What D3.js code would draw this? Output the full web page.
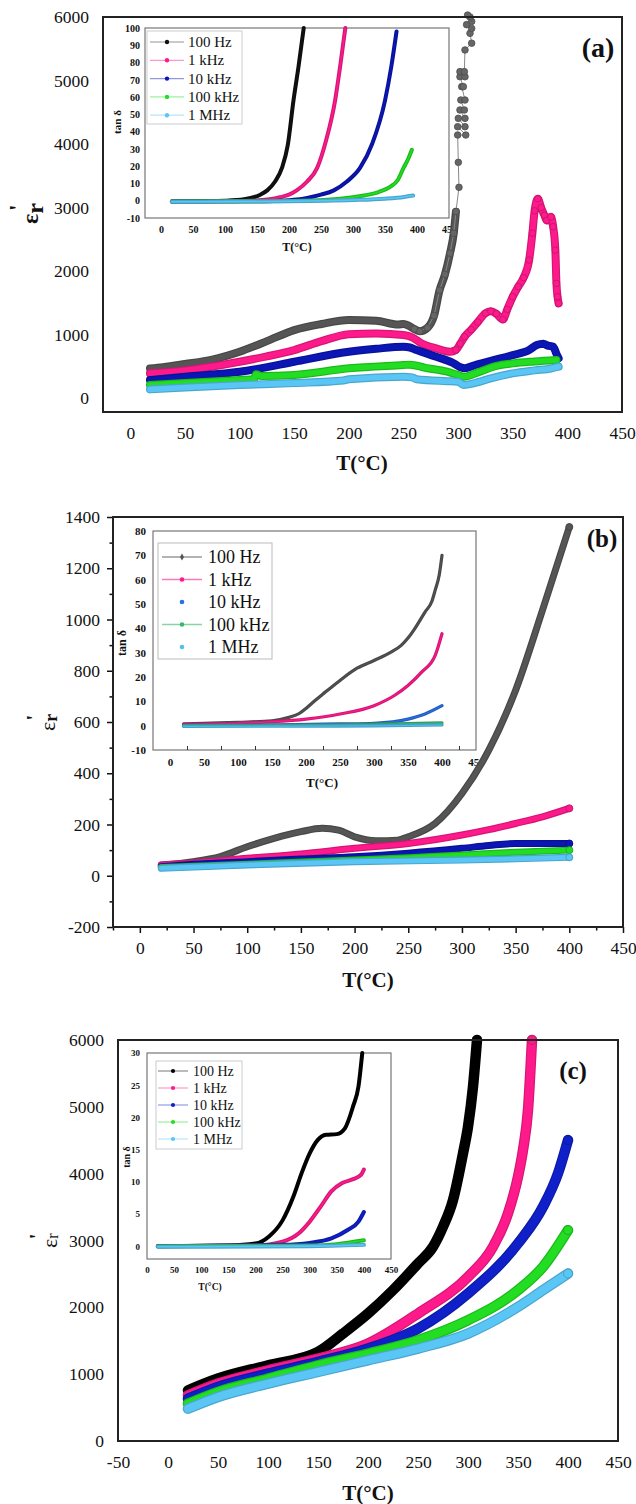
<!DOCTYPE html>
<html>
<head>
<meta charset="utf-8">
<script src="https://cdn.jsdelivr.net/npm/d3@7"></script>
<style>
  body { margin: 0; background: #fff; }
  svg { display: block; }
</style>
</head>
<body>
<svg id="fig" width="636" height="1504"></svg>
<script>
// ---------- data ----------
const freqLabels = ["100 Hz", "1 kHz", "10 kHz", "100 kHz", "1 MHz"];

// temperature ticks
const tempTicksMain = [0, 50, 100, 150, 200, 250, 300, 350, 400, 450];
const tempTicksC = [-50, 0, 50, 100, 150, 200, 250, 300, 350, 400, 450];
// permittivity ticks
const epsTicksA = [0, 1000, 2000, 3000, 4000, 5000, 6000];
const epsTicksB = [-200, 0, 200, 400, 600, 800, 1000, 1200, 1400];
const epsTicksC = [0, 1000, 2000, 3000, 4000, 5000, 6000];
// loss tangent ticks
const tanTicksA = [-10, 0, 10, 20, 30, 40, 50, 60, 70, 80, 90, 100];
const tanTicksB = [-10, 0, 10, 20, 30, 40, 50, 60, 70, 80];
const tanTicksC = [0, 5, 10, 15, 20, 25, 30];

// (a) real permittivity vs temperature, [T, eps']
const epsA_100Hz = [[18,470],[30,490],[50,540],[75,610],[100,734],[125,900],[150,1074],[175,1170],[200,1232],[225,1220],[245,1160],[250,1170],[255,1140],[260,1090],[265,1055],[272,1110],[278,1300],[283,1700],[288,1950],[292.6,2282],[296,2597],[298,2937],
  [300.8,3320],[300.2,3713],[299.6,4143],[307,4143],[299.6,4274],[306.3,4274],[300.2,4405],[306.3,4405],[301.7,4537],[305.7,4537],[302.5,4694],[306.3,4694],[303.3,4904],[304.8,4904],[301.7,5060],[306.3,5060],[301.7,5140],[305.7,5140],[306.3,5481],[312.4,5588],[310.9,5743],[312.4,5820],[307.8,5880],[312.4,5930],[310.9,6000],[308.7,6030]];
const epsA_1kHz = [[18,393],[50,440],[100,576],[125,660],[150,760],[175,900],[200,1010],[225,1020],[250,996],[258,960],[265,880],[280,786],[293,734],[298,760],[302,860],[306,970],[312,1080],[318,1200],[325,1340],[330,1370],[335,1330],[341,1240],[345,1400],[350,1600],[355,1756],[360,1900],[365,2175],[368,2600],[370,2950],[373,3140],[376,3000],[379,2880],[381,2800],[385,2856],[387,2700],[389,2332],[390,1808],[391,1600],[392,1494]];
const epsA_10kHz = [[18,288],[50,340],[100,419],[115,460],[150,576],[200,734],[225,780],[250,812],[256,800],[262,760],[280,655],[295,560],[302,490],[306,472],[315,520],[330,590],[350,681],[365,760],[372,840],[378,860],[382,830],[387,812],[390,700],[392,629]];
const epsA_100kHz = [[18,210],[50,240],[100,288],[113,300],[115,380],[120,350],[150,367],[200,472],[250,524],[256,530],[270,480],[290,420],[300,367],[305,340],[320,420],[335,510],[350,550],[370,580],[390,603]];
const epsA_1MHz = [[18,141],[50,170],[100,210],[150,240],[195,280],[200,300],[250,340],[258,330],[262,300],[290,270],[300,262],[305,210],[315,240],[330,314],[350,393],[370,440],[385,470],[392,498]];

// (a) inset: loss tangent, [T, tan delta]
const tanA_100Hz = [[17,-0.5],[60,-0.3],[100,0],[130,0.8],[145,2],[155,3.5],[166,6],[178,11],[189,19],[198,32],[207,58],[215,78],[223,100]];
const tanA_1kHz = [[17,-0.5],[100,-0.3],[150,0.2],[170,0.8],[186,2],[200,3.5],[212,6],[228,11],[244,19],[258,35],[272,58],[280,78],[288,100]];
const tanA_10kHz = [[17,-0.5],[150,-0.3],[200,0.3],[220,1],[233,2],[250,3.5],[270,6],[290,11],[311,19],[330,33],[350,58],[360,78],[368,98]];
const tanA_100kHz = [[17,-0.5],[200,-0.2],[260,0.5],[300,2],[317,3],[340,5],[358,8],[370,12],[379,19],[386,24],[392,29.5]];
const tanA_1MHz = [[17,-0.6],[100,-0.5],[200,-0.3],[300,0.4],[350,1.2],[380,2.2],[394,3]];

// (b) real permittivity vs temperature
const epsB_100Hz = [[20,42],[50,55],[75,75],[100,113],[125,146],[150,172],[170,185],[185,178],[200,152],[220,137],[240,139],[250,152],[275,204],[300,321],[325,490],[350,724],[375,1036],[400,1361]];
const epsB_1kHz = [[20,42],[50,50],[100,68],[150,85],[200,107],[250,126],[300,159],[325,180],[350,204],[375,230],[400,263]];
const epsB_10kHz = [[20,35],[50,45],[100,55],[150,65],[200,74],[250,88],[300,107],[325,118],[350,126],[400,126]];
const epsB_100kHz = [[20,32],[100,45],[200,61],[250,70],[300,81],[350,92],[400,100]];
const epsB_1MHz = [[20,29],[100,42],[200,55],[300,61],[350,66],[400,72]];

// (b) inset: loss tangent
const tanB_100Hz = [[20,0.7],[50,1],[100,1.4],[150,2],[175,3.4],[190,5],[200,7.1],[212,10],[225,13],[250,18.6],[275,23.6],[300,26.8],[325,30.2],[340,33],[350,36],[360,39.9],[375,46.7],[385,51],[390,55.7],[396,62],[400,70]];
const tanB_1kHz = [[20,0.5],[100,1],[150,1.6],[200,2.7],[250,4.8],[300,8.2],[330,12.4],[350,16.5],[370,22],[390,28.9],[400,37.8]];
const tanB_10kHz = [[20,0.1],[150,0.3],[250,0.7],[300,1],[350,2.7],[375,4.8],[400,8.2]];
const tanB_100kHz = [[20,0],[200,0.2],[300,0.5],[400,1.2]];
const tanB_1MHz = [[20,-0.3],[200,-0.2],[300,-0.1],[400,0.3]];

// (c) real permittivity vs temperature
const epsC_100Hz = [[20,759],[50,934],[100,1133],[150,1333],[175,1608],[200,1907],[225,2257],[250,2656],[265,2906],[275,3205],[285,3604],[295,4303],[300,4703],[305,5302],[309,6000]];
const epsC_1kHz = [[20,684],[50,859],[100,1058],[150,1233],[200,1458],[250,1907],[300,2456],[325,2906],[340,3405],[350,3954],[355,4354],[360,4953],[364,6000]];
const epsC_10kHz = [[20,634],[50,809],[100,1008],[150,1183],[200,1383],[250,1682],[300,2207],[350,2956],[375,3505],[390,4004],[400,4503]];
const epsC_100kHz = [[20,559],[50,734],[100,934],[150,1133],[200,1308],[250,1508],[300,1807],[350,2257],[375,2606],[400,3155]];
const epsC_1MHz = [[20,484],[50,659],[100,859],[150,1033],[200,1208],[250,1383],[300,1608],[350,2007],[375,2257],[400,2506]];

// (c) inset: loss tangent
const tanC_100Hz = [[20,0],[150,0.1],[200,0.4],[225,1.5],[250,4],[270,7.7],[285,11.3],[300,14.4],[315,16.5],[330,17.3],[350,17.4],[365,18.3],[380,21.7],[390,24.8],[397,30]];
const tanC_1kHz = [[20,0],[200,0.1],[250,0.7],[280,2],[300,3.8],[320,6.1],[340,8.5],[360,9.8],[380,10.4],[395,11.1],[400,11.9]];
const tanC_10kHz = [[20,0],[250,0.2],[300,0.5],[340,1.2],[370,2.5],[390,3.8],[400,5.3]];
const tanC_100kHz = [[20,0],[300,0.1],[350,0.3],[400,0.9]];
const tanC_1MHz = [[20,-0.1],[300,0],[400,0.2]];

// ---------- styles ----------
const SERIF = '"Liberation Serif","Times New Roman",serif';
const PINK = "#ff1a8c", BLUE = "#0b16b4", GREEN = "#22dd22", CYAN = "#5ac6f5";
const colorsA = ["#555555", PINK, BLUE, GREEN, CYAN];
const colorsAInset = ["#111111", PINK, BLUE, GREEN, CYAN];
const colorsB = ["#555555", PINK, BLUE, GREEN, CYAN];
const colorsBInset = ["#555555", PINK, "#2a6fe6", "#39b86a", "#4fc0f0"];
const colorsC = ["#000000", PINK, "#1020c8", GREEN, CYAN];

const svg = d3.select("#fig");
svg.append("rect").attr("width", 636).attr("height", 1504).attr("fill", "#fff");

const fmt = d => String(d);

function styleText(sel, size, weight) {
  sel.selectAll("text")
    .style("font-family", SERIF)
    .style("font-size", size + "px")
    .style("font-weight", weight)
    .attr("fill", "#111");
}

function frame(g, x, y, stroke, width, fill) {
  const [x0, x1] = x.range(), [y0, y1] = y.range();
  return g.append("rect")
    .attr("x", x0).attr("y", y1)
    .attr("width", x1 - x0).attr("height", y0 - y1)
    .attr("fill", fill || "none")
    .attr("stroke", stroke).attr("stroke-width", width);
}

// axes drawn with d3 axis generators; o holds the layout of each axis
function axes(g, x, y, o) {
  const bottom = d3.axisBottom(x).tickValues(o.xTicks).tickFormat(fmt)
    .tickSize(o.tickLen || 0).tickSizeOuter(0).tickPadding(o.xPad);
  const gx = g.append("g").attr("transform", `translate(0,${y.range()[0]})`).call(bottom);
  gx.select(".domain").remove();
  gx.selectAll("line").attr("stroke", "#111").attr("stroke-width", o.tickW || 1.5);
  styleText(gx, o.size, o.weight);

  const left = d3.axisLeft(y).tickValues(o.yTicks).tickFormat(fmt)
    .tickSize(o.tickLen || 0).tickSizeOuter(0).tickPadding(o.yPad);
  const gy = g.append("g").attr("transform", `translate(${x.range()[0]},0)`).call(left);
  gy.select(".domain").remove();
  gy.selectAll("line").attr("stroke", "#111").attr("stroke-width", o.tickW || 1.5);
  styleText(gy, o.size, o.weight);

  if (o.xMinor) {
    const m = g.append("g").attr("transform", `translate(0,${y.range()[0]})`)
      .call(d3.axisBottom(x).tickValues(o.xMinor).tickSize(o.minorLen).tickFormat(""));
    m.select(".domain").remove();
    m.selectAll("line").attr("stroke", "#111").attr("stroke-width", o.tickW || 1.5);
  }
  if (o.yMinor) {
    const m = g.append("g").attr("transform", `translate(${x.range()[0]},0)`)
      .call(d3.axisLeft(y).tickValues(o.yMinor).tickSize(o.minorLen).tickFormat(""));
    m.select(".domain").remove();
    m.selectAll("line").attr("stroke", "#111").attr("stroke-width", o.tickW || 1.5);
  }
}

// thick band made of dense overlapping markers
function band(g, x, y, data, color, w) {
  const line = d3.line().x(d => x(d[0])).y(d => y(d[1])).curve(d3.curveMonotoneX);
  g.append("path").datum(data).attr("d", line).attr("fill", "none")
    .attr("stroke", d3.color(color).darker(0.5)).attr("stroke-width", w)
    .attr("stroke-linecap", "round").attr("stroke-linejoin", "round");
  g.append("path").datum(data).attr("d", line).attr("fill", "none")
    .attr("stroke", color).attr("stroke-width", Math.max(w - 2.4, 1))
    .attr("stroke-linecap", "round").attr("stroke-linejoin", "round");
}

function markers(g, x, y, data, color, r) {
  g.selectAll(null).data(data).join("circle")
    .attr("cx", d => x(d[0])).attr("cy", d => y(d[1])).attr("r", r)
    .attr("fill", color).attr("stroke", d3.color(color).darker(0.8)).attr("stroke-width", 0.8);
}

function legend(g, L, colors, kinds) {
  g.append("rect").attr("x", L.x).attr("y", L.y).attr("width", L.w).attr("height", L.h)
    .attr("fill", "#fff").attr("stroke", L.stroke).attr("stroke-width", 1);
  freqLabels.forEach((lab, i) => {
    const cy = L.row0 + i * L.step;
    const kind = kinds ? kinds[i] : "line";
    if (kind !== "dot") {
      g.append("line").attr("x1", L.lx0).attr("x2", L.lx1).attr("y1", cy).attr("y2", cy)
        .attr("stroke", colors[i]).attr("stroke-opacity", L.lineOpacity).attr("stroke-width", L.lineW);
    }
    if (kind === "diamond") {
      g.append("path").attr("d", d3.symbol(d3.symbolDiamond, 14)())
        .attr("transform", `translate(${L.mx},${cy})`).attr("fill", colors[i]);
    } else {
      g.append("circle").attr("cx", L.mx).attr("cy", cy).attr("r", L.mr).attr("fill", colors[i]);
    }
    g.append("text").attr("x", L.tx).attr("y", cy + L.size * 0.34).text(lab)
      .style("font-family", SERIF).style("font-size", L.size + "px").attr("fill", "#111");
  });
}

function title(g, txt, cx, cy, size, weight, rotate) {
  const t = g.append("text")
    .attr("transform", `translate(${cx},${cy})` + (rotate ? " rotate(-90)" : ""))
    .attr("text-anchor", "middle").attr("y", size * 0.34)
    .style("font-family", SERIF).style("font-size", size + "px")
    .style("font-weight", weight).attr("fill", "#111").text(txt);
  return t;
}

// rotated epsilon'_r axis title; E = {x, y0, size, rSize, rDy, primeDx, primeDy, weight, rWeight}
function epsTitle(g, E) {
  const t = g.append("text")
    .attr("transform", `translate(${E.x},${E.y0}) rotate(-90)`)
    .attr("text-anchor", "start")
    .style("font-family", SERIF).style("font-size", E.size + "px")
    .style("font-weight", E.weight).attr("fill", "#111");
  t.append("tspan").text("ε");
  t.append("tspan").attr("dy", E.rDy).style("font-size", E.rSize + "px")
    .style("font-weight", E.rWeight).text("r");
  t.append("tspan").attr("dx", E.primeDx).attr("dy", E.primeDy)
    .style("font-size", E.size + "px").style("font-weight", "bold").text("'");
}

// ================= panel (a) =================
{
  const g = svg.append("g");
  const x = d3.scaleLinear().domain([-25, 450]).range([103, 622]);
  const y = d3.scaleLinear().domain([-215, 6000]).range([412, 17]);
  const xi = d3.scaleLinear().domain([-25, 450]).range([145, 449]);
  const yi = d3.scaleLinear().domain([-10, 100]).range([218, 28]);

  axes(g, x, y, { xTicks: tempTicksMain, yTicks: epsTicksA, size: 17.5, weight: "normal", xPad: 15, yPad: 14 });

  // inset
  const gi = g.append("g");
  frame(gi, xi, yi, "#777", 1.2, "#fff");
  axes(gi, xi, yi, { xTicks: tempTicksMain, yTicks: tanTicksA, size: 10, weight: "bold", xPad: 7.5, yPad: 5 });
  const ciA = gi.append("g").attr("clip-path", null);
  [tanA_100Hz, tanA_1kHz, tanA_10kHz, tanA_100kHz, tanA_1MHz].forEach((d, i) =>
    band(ciA, xi, yi, d, colorsAInset[i], 4));
  legend(gi, { x: 147, y: 31, w: 95, h: 93, stroke: "#ccc", row0: 42, step: 18.3,
    lx0: 150, lx1: 184, mx: 167, mr: 2.2, tx: 188, size: 15, lineOpacity: 0.45, lineW: 1.2 }, colorsAInset);
  title(gi, "T(°C)", 297, 247, 12, "bold");
  title(gi, "tan δ", 117, 122, 11, "bold", true);

  // main series
  const gd = g.append("g");
  const gray = epsA_100Hz;
  const grayBand = gray.filter(d => d[1] < 3000);
  const grayScatter = gray.filter(d => d[0] >= 260);
  band(gd, x, y, grayBand, colorsA[0], 8);
  gd.append("path").datum(grayScatter)
    .attr("d", d3.line().x(d => x(d[0])).y(d => y(d[1])))
    .attr("fill", "none").attr("stroke", "#888").attr("stroke-width", 1);
  markers(gd, x, y, grayScatter, "#666", 3.3);
  [epsA_1kHz, epsA_10kHz, epsA_100kHz, epsA_1MHz].forEach((d, i) => {
    band(gd, x, y, d, colorsA[i + 1], 8);
  });
  markers(gd, x, y, epsA_1kHz.filter(d => d[0] >= 298), PINK, 3.3);

  frame(g, x, y, "#222", 2);
  title(g, "T(°C)", 362, 463, 21, "bold");
  title(g, "(a)", 598, 47, 28, "bold");
  epsTitle(g, { x: 38, y0: 224, size: 24, rSize: 24, rDy: 5, primeDx: -8, primeDy: -18, weight: "bold", rWeight: "bold" });
}

// ================= panel (b) =================
{
  const g = svg.append("g");
  const x = d3.scaleLinear().domain([-25, 450]).range([113, 623]);
  const y = d3.scaleLinear().domain([-200, 1400]).range([927, 517]);
  const xi = d3.scaleLinear().domain([-25, 450]).range([153, 476]);
  const yi = d3.scaleLinear().domain([-10, 80]).range([750, 531]);

  axes(g, x, y, { xTicks: tempTicksMain, yTicks: epsTicksB, size: 17.5, weight: "normal", xPad: 9, yPad: 7,
    tickLen: 6, tickW: 1.5, minorLen: 3.5,
    xMinor: [-25, 25, 75, 125, 175, 225, 275, 325, 375, 425],
    yMinor: [-100, 100, 300, 500, 700, 900, 1100, 1300] });

  // inset
  const gi = g.append("g");
  frame(gi, xi, yi, "#777", 1.2, "#fff");
  axes(gi, xi, yi, { xTicks: tempTicksMain, yTicks: tanTicksB, size: 11, weight: "bold", xPad: 8, yPad: 7 });
  const tk = gi.append("g").attr("transform", `translate(0,${yi.range()[0]})`)
    .call(d3.axisBottom(xi).tickValues([25, 75, 125, 175, 225, 275, 325, 375, 425]).tickSize(-4).tickFormat(""));
  tk.select(".domain").remove();
  tk.selectAll("line").attr("stroke", "#333");
  [tanB_100Hz, tanB_1kHz, tanB_10kHz, tanB_100kHz, tanB_1MHz].forEach((d, i) =>
    band(gi, xi, yi, d, colorsBInset[i], 3.2));
  legend(gi, { x: 158, y: 543, w: 114, h: 116, stroke: "#bbb", row0: 557, step: 22.5,
    lx0: 162, lx1: 202, mx: 182, mr: 2.3, tx: 208, size: 18, lineOpacity: 0.6, lineW: 1.3 },
    colorsBInset, ["diamond", "line", "dot", "line", "dot"]);
  title(gi, "T(°C)", 322, 783, 13, "bold");
  title(gi, "tan δ", 122, 643, 12, "bold", true);

  // main series
  const gd = g.append("g");
  [epsB_100Hz, epsB_1kHz, epsB_10kHz, epsB_100kHz, epsB_1MHz].forEach((d, i) => {
    band(gd, x, y, d, colorsB[i], 7);
    markers(gd, x, y, [d[d.length - 1]], colorsB[i], 3.5);
  });

  frame(g, x, y, "#222", 2);
  title(g, "T(°C)", 368, 980, 21, "bold");
  title(g, "(b)", 602, 538, 25, "bold");
  epsTitle(g, { x: 55, y0: 731, size: 22, rSize: 18, rDy: 2, primeDx: -7, primeDy: -16, weight: "normal", rWeight: "bold" });
}

// ================= panel (c) =================
{
  const g = svg.append("g");
  const x = d3.scaleLinear().domain([-50, 450]).range([118, 618]);
  const y = d3.scaleLinear().domain([0, 6000]).range([1441, 1040]);
  const xi = d3.scaleLinear().domain([0, 450]).range([147, 391]);
  const yi = d3.scaleLinear().domain([-2, 30]).range([1259, 1053]);

  axes(g, x, y, { xTicks: tempTicksC, yTicks: epsTicksC, size: 17.5, weight: "normal", xPad: 15, yPad: 14 });

  // inset
  const gi = g.append("g");
  frame(gi, xi, yi, "#777", 1.2, "#fff");
  axes(gi, xi, yi, { xTicks: tempTicksMain, yTicks: tanTicksC, size: 9, weight: "bold", xPad: 7.5, yPad: 7 });
  [tanC_100Hz, tanC_1kHz, tanC_10kHz, tanC_100kHz, tanC_1MHz].forEach((d, i) =>
    band(gi, xi, yi, d, colorsC[i], 4));
  legend(gi, { x: 156, y: 1061, w: 86, h: 88, stroke: "#ccc", row0: 1071, step: 17,
    lx0: 158, lx1: 188, mx: 173, mr: 2.1, tx: 193, size: 14, lineOpacity: 0.45, lineW: 1.2 }, colorsC);
  title(gi, "T(°C)", 210, 1287, 9.5, "bold");
  title(gi, "tan δ", 127, 1157, 10, "bold", true);

  // main series
  const gd = g.append("g");
  [epsC_100Hz, epsC_1kHz, epsC_10kHz, epsC_100kHz, epsC_1MHz].forEach((d, i) => {
    band(gd, x, y, d, colorsC[i], 10.5);
    markers(gd, x, y, [d[d.length - 1]], colorsC[i], 4.5);
  });

  frame(g, x, y, "#222", 2);
  title(g, "T(°C)", 368, 1493, 21, "bold");
  title(g, "(c)", 573, 1070, 25, "bold");
  epsTitle(g, { x: 57, y0: 1248, size: 22, rSize: 16, rDy: 1, primeDx: -6, primeDy: -14, weight: "normal", rWeight: "normal" });
}
</script>
</body>
</html>
